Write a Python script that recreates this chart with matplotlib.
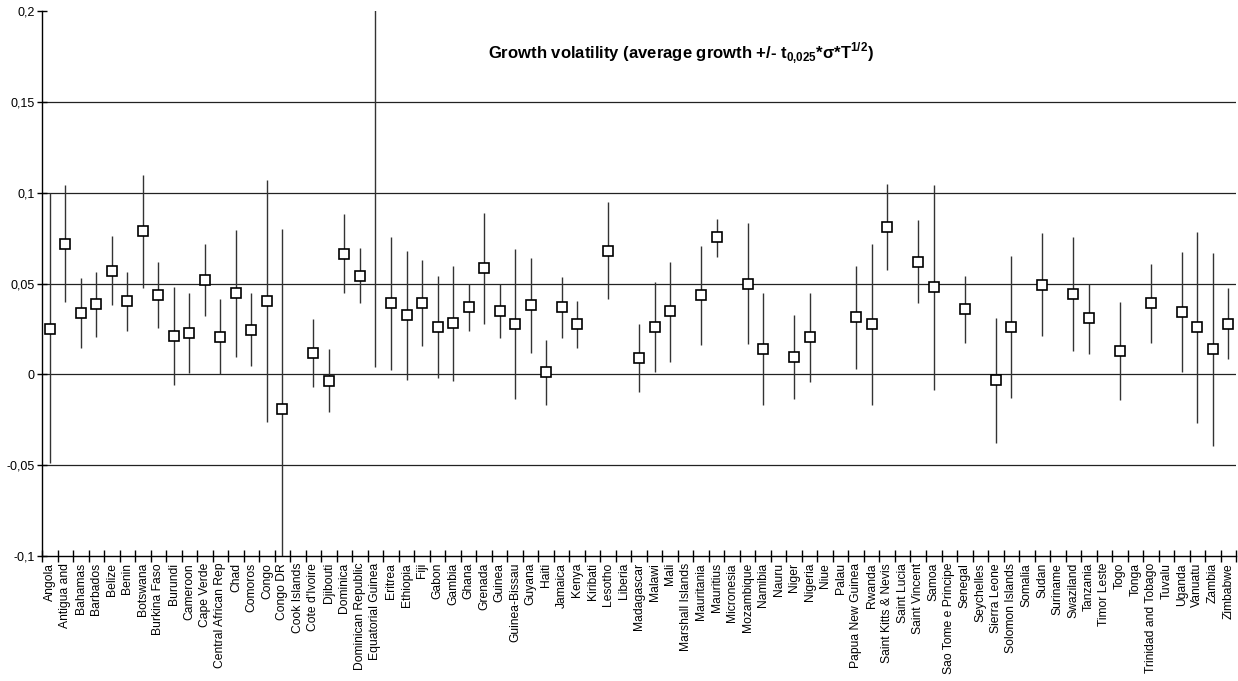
import numpy as np
import matplotlib
matplotlib.use("Agg")
import matplotlib.pyplot as plt
from matplotlib.ticker import FixedLocator, FuncFormatter

plt.rcParams['font.family'] = ['Liberation Sans', 'DejaVu Sans']
plt.rcParams['mathtext.fontset'] = 'custom'
plt.rcParams['mathtext.bf'] = 'Liberation Sans:bold'
plt.rcParams['mathtext.rm'] = 'Liberation Sans:bold'

nan = np.nan

countries = ["Angola", "Antigua and", "Bahamas", "Barbados", "Belize", "Benin", "Botswana",
             "Burkina Faso", "Burundi", "Cameroon", "Cape Verde", "Central African Rep", "Chad",
             "Comoros", "Congo", "Congo DR", "Cook Islands", "Cote d'Ivoire", "Djibouti",
             "Dominica", "Dominican Republic", "Equatorial Guinea", "Eritrea", "Ethiopia", "Fiji",
             "Gabon", "Gambia", "Ghana", "Grenada", "Guinea", "Guinea-Bissau", "Guyana", "Haiti",
             "Jamaica", "Kenya", "Kiribati", "Lesotho", "Liberia", "Madagascar", "Malawi", "Mali",
             "Marshall Islands", "Mauritania", "Mauritius", "Micronesia", "Mozambique", "Namibia",
             "Nauru", "Niger", "Nigeria", "Niue", "Palau", "Papua New Guinea", "Rwanda",
             "Saint Kitts & Nevis", "Saint Lucia", "Saint Vincent", "Samoa", "Sao Tome e Principe",
             "Senegal", "Seychelles", "Sierra Leone", "Solomon Islands", "Somalia", "Sudan",
             "Suriname", "Swaziland", "Tanzania", "Timor Leste", "Togo", "Tonga",
             "Trinidad and Tobago", "Tuvalu", "Uganda", "Vanuatu", "Zambia", "Zimbabwe"]

# average growth
mean = [0.0252, 0.072, 0.034, 0.0386, 0.057, 0.0403, 0.0789,
        0.0436, 0.021, 0.0228, 0.0518, 0.0206, 0.0449,
        0.0246, 0.0404, -0.0193, nan, 0.0119, -0.0035,
        0.0665, 0.0544, 0.25, 0.039, 0.0324, 0.0395,
        0.0261, 0.0281, 0.037, 0.0583, 0.0351, 0.0276, 0.038, 0.0013,
        0.0371, 0.0278, nan, 0.068, nan, 0.009, 0.0261, 0.0347,
        nan, 0.0438, 0.0754, nan, 0.0498, 0.014,
        nan, 0.0097, 0.0206, nan, nan, 0.0316, 0.0276,
        0.0813, nan, 0.0621, 0.048, nan,
        0.0358, nan, -0.0033, 0.0263, nan, 0.0494,
        nan, 0.0443, 0.0309, nan, 0.0129, nan,
        0.039, nan, 0.0342, 0.0259, 0.014, 0.0279]

# upper bound
upper = [0.100, 0.104, 0.053, 0.0563, 0.0759, 0.0563, 0.110,
         0.0616, 0.0478, 0.0449, 0.0715, 0.0414, 0.0796,
         0.0445, 0.107, 0.0798, nan, 0.0303, 0.0138,
         0.088, 0.0695, 0.496, 0.0756, 0.0678, 0.0632,
         0.0542, 0.0596, 0.0496, 0.0888, 0.0496, 0.0689, 0.0642, 0.0188,
         0.0535, 0.0406, nan, 0.0949, nan, 0.0276, 0.0507, 0.0621,
         nan, 0.0708, 0.0857, nan, 0.0831, 0.0445,
         nan, 0.0329, 0.045, nan, nan, 0.0596, 0.0715,
         0.105, nan, 0.0847, 0.1042, nan,
         0.0542, nan, 0.0309, 0.0654, nan, 0.0776,
         nan, 0.0756, 0.0498, nan, 0.0397, nan,
         0.0607, nan, 0.0671, 0.0783, 0.0669, 0.0474]

# lower bound
lower = [-0.049, 0.040, 0.0147, 0.0206, 0.0379, 0.0239, 0.0476,
         0.0256, -0.006, 0.0007, 0.032, 0.0, 0.0096,
         0.0046, -0.0263, -0.118, nan, -0.0068, -0.021,
         0.0449, 0.0393, 0.004, 0.0022, -0.003, 0.0156,
         -0.002, -0.0035, 0.0241, 0.0276, 0.020, -0.0134, 0.0118, -0.0167,
         0.0202, 0.0147, nan, 0.0414, nan, -0.0099, 0.0013, 0.007,
         nan, 0.0164, 0.0647, nan, 0.0167, -0.0171,
         nan, -0.0138, -0.0042, nan, nan, 0.0031, -0.0167,
         0.0574, nan, 0.0395, -0.0085, nan,
         0.0173, nan, -0.0377, -0.013, nan, 0.0213,
         nan, 0.0127, 0.0114, nan, -0.0142, nan,
         0.0173, nan, 0.0013, -0.0268, -0.0392, 0.0085]

x = np.arange(1, len(countries) + 1)

fig = plt.figure(figsize=(12.38, 6.81), dpi=100)
ax = fig.add_axes([0.034, 0.1836, 0.9645, 0.8002])

# grid lines
for g in [0.15, 0.1, 0.05, 0, -0.05]:
    ax.axhline(g, color='#222222', lw=0.9, zorder=1)

# error lines and markers
ax.vlines(x, lower, upper, color='#333333', lw=1.0, zorder=2)
ax.plot(x, mean, linestyle='none', marker='s', markersize=7,
        markerfacecolor='white', markeredgecolor='black', markeredgewidth=1.2, zorder=3)

ax.set_xlim(0.5, len(countries) + 0.5)
ax.set_ylim(-0.1, 0.2)

ax.spines['top'].set_visible(False)
ax.spines['right'].set_visible(False)
ax.spines['left'].set_linewidth(1.0)
ax.spines['bottom'].set_linewidth(1.0)

ax.set_yticks([-0.1, -0.05, 0, 0.05, 0.1, 0.15, 0.2])
ax.yaxis.set_major_formatter(FuncFormatter(lambda v, p: ('%g' % round(v, 3)).replace('.', ',')))
ax.tick_params(axis='y', direction='inout', length=7, width=1, labelsize=9, pad=2)

ax.xaxis.set_major_locator(FixedLocator(np.arange(0.5, len(countries) + 1, 1)))
ax.xaxis.set_minor_locator(FixedLocator(x))
ax.set_xticklabels([], minor=False)
ax.set_xticklabels(countries, minor=True, rotation=90, fontsize=8.7)
ax.tick_params(axis='x', which='major', direction='inout', length=8, width=1)
ax.tick_params(axis='x', which='minor', length=0, pad=5)

ax.text(0.535, 0.922,
        r"Growth volatility (average growth +/- t$_{\mathbf{0{,}025}}$*σ*T$^{\mathbf{1/2}}$)",
        transform=ax.transAxes, ha='center', va='center', fontsize=12, fontweight='bold')

fig.savefig("out.png", dpi=100)
